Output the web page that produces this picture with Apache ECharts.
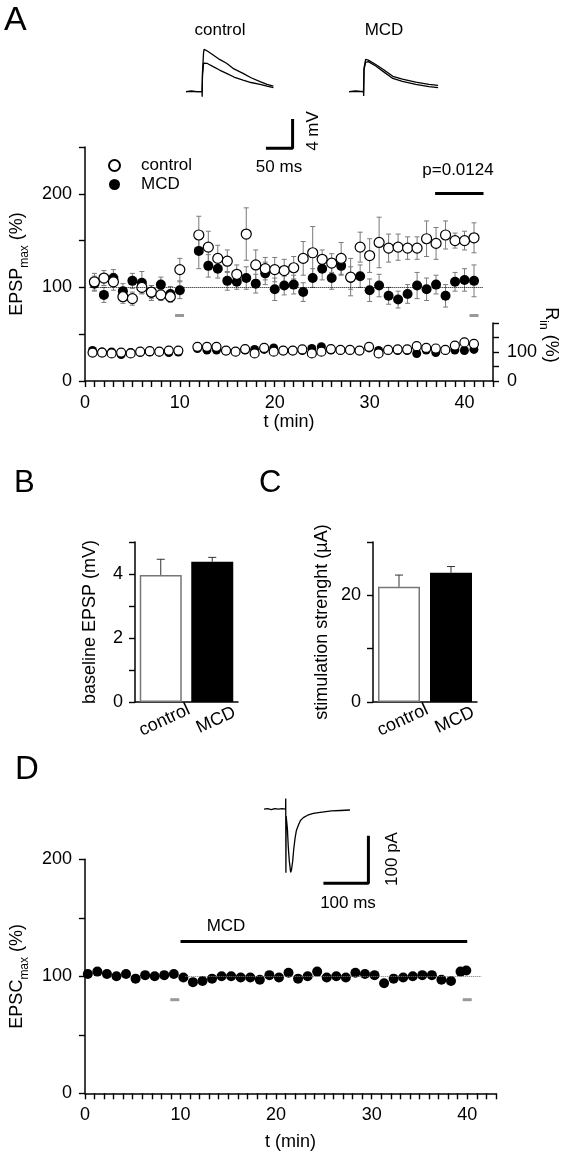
<!DOCTYPE html>
<html>
<head>
<meta charset="utf-8">
<script src="https://cdn.jsdelivr.net/npm/echarts@6/dist/echarts.min.js"></script>
<style>
  html, body { margin: 0; padding: 0; background: #fff; }
  #fig { width: 567px; height: 1163px; }
</style>
</head>
<body>
<div id="fig"></div>
<script>
// ---- panel A: EPSP max (%) over time ----
var aTimes = [1, 2, 3, 4, 5, 6, 7, 8, 9, 10,
  12, 13, 14, 15, 16, 17, 18, 19, 20, 21, 22, 23, 24, 25, 26, 27, 28, 29, 30, 31,
  32, 33, 34, 35, 36, 37, 38, 39, 40, 41]
var aControl = [106, 110, 106, 90, 88, 100, 95, 92, 90, 119,
  156, 143, 131, 128, 114, 157, 124, 120, 119, 118, 121, 131, 137, 130, 126, 131, 111, 143, 134, 148,
  142, 143, 142, 142, 152, 147, 156, 150, 150, 153]
var aControlErr = [9, 8, 9, 7, 7, 6, 7, 6, 6, 12,
  20, 17, 14, 12, 10, 28, 16, 12, 13, 12, 12, 18, 28, 10, 10, 17, 20, 16, 18, 27,
  15, 14, 12, 12, 19, 17, 15, 8, 10, 16]
var aMcd = [104, 92, 110, 96, 107, 105, 94, 103, 93, 97,
  139, 123, 120, 107, 106, 110, 104, 115, 98, 102, 103, 95, 110, 120, 110, 123, 110, 112, 97, 102,
  91, 87, 93, 102, 98, 103, 91, 106, 108, 107]
var aMcdErr = [8, 8, 9, 8, 8, 12, 8, 8, 8, 9,
  19, 12, 10, 10, 8, 12, 10, 12, 12, 10, 10, 10, 10, 12, 12, 10, 12, 12, 12, 12,
  9, 9, 10, 14, 12, 10, 12, 10, 12, 17]
// input resistance (%)
var rinControl = [98, 98, 95, 98, 95, 101, 103, 101, 105, 105,
  118, 118, 118, 105, 101, 110, 95, 114, 101, 105, 105, 109, 95, 101, 110, 107, 107, 105, 118, 95,
  107, 109, 109, 120, 114, 112, 107, 122, 133, 128]
var rinMcd = [105, 100, 100, 91, 98, 98, 100, 100, 98, 100,
  112, 107, 107, 105, 101, 107, 109, 109, 114, 105, 105, 105, 112, 118, 107, 105, 105, 105, 114, 105,
  105, 105, 105, 95, 107, 98, 105, 107, 105, 109]
var aGrayMarks = [[9.97, 70], [41, 70]]
var pBar = [36.9, 42, 201]
var pLabel = 'p=0.0124'

// example EPSP traces [ms, mV]
var traceCtlUpper = [[0, 0], [10, 0.1], [20, 0], [30, 0], [30.4, -0.7], [30.8, 2.5], [33, 5.4], [34, 5.78],
  [40, 5.55], [51, 5.0], [63, 4.4], [76, 3.87], [90, 3.1], [107, 2.5], [122, 1.9], [139, 1.36], [152, 1.0], [164, 0.77]]
var traceCtlLower = [[0, 0], [30, 0], [31, 2.2], [33, 3.9], [34, 4.09], [40, 3.85], [51, 3.41], [63, 2.95],
  [76, 2.5], [90, 2.0], [107, 1.59], [122, 1.25], [139, 1.0], [152, 0.75], [164, 0.55]]
var traceMcdUpper = [[0, 0], [12, 0.1], [27, 0], [27.4, -0.6], [28, 3.2], [31, 4.4], [36, 4.3], [50, 3.7],
  [65, 3.0], [82, 2.1], [100, 1.7], [125, 1.3], [150, 1.0], [167, 0.85]]
var traceMcdLower = [[0, 0], [27, 0], [28, 3.0], [31, 4.0], [36, 4.1], [50, 3.5], [65, 2.7], [82, 1.8],
  [100, 1.4], [125, 1.0], [150, 0.7], [167, 0.55]]

// ---- panels B and C ----
var barCats = ['control', 'MCD']
var bBaseline = [3.97, 4.38]
var bBaselineErr = [0.49, 0.14]
var cStim = [21.6, 24.25]
var cStimErr = [2.2, 1.15]

// ---- panel D: EPSC max (%) ----
var dTimes = [0.3, 1.3, 2.3, 3.3, 4.3, 5.3, 6.3, 7.3, 8.3, 9.3,
  10.3, 11.3, 12.3, 13.3, 14.3, 15.3, 16.3, 17.3, 18.3, 19.3,
  20.3, 21.3, 22.3, 23.3, 24.3, 25.3, 26.3, 27.3, 28.3, 29.3,
  30.3, 31.3, 32.3, 33.3, 34.3, 35.3, 36.3, 37.3, 38.3, 39.3, 39.9]
var dEpsc = [102, 104, 102, 100, 102, 98, 101, 100, 101, 102,
  99, 95, 96, 98, 100, 100, 99, 99, 97, 101,
  99, 103, 98, 100, 104, 99, 100, 99, 103, 102,
  101, 94, 98, 99, 100, 101, 101, 97, 96, 104, 105]
var dGrayMarks = [[9.4, 80], [40, 80]]
var dMcdBar = [10, 40, 130]
// example EPSC trace [ms, pA]
var epscTrace = [[0, 0], [8, 1], [16, -1], [24, 1], [32, 0], [40, 1], [48, 0], [48.3, 22], [48.7, -134], [49.2, -15],
  [51.9, -40], [54, -80], [56.3, -110], [59.3, -133], [61, -128], [63.7, -110], [66, -85], [68.9, -62],
  [72, -45], [76.3, -34], [81, -24], [87.4, -18], [97, -13], [109.6, -9], [125, -7], [150, -4], [170, -3], [191, -2]]

var FONT = 'Liberation Sans, Arial, sans-serif'

function zipXY (xs, ys) {
  return xs.map(function (x, i) { return [x, ys[i]] })
}
function zipErr (xs, ys, es) {
  return xs.map(function (x, i) { return [x, ys[i], es[i]] })
}
function shift (pts, dx) {
  return pts.map(function (p) { return [p[0] + dx, p[1]] })
}

// vertical error bars with caps
function errBars (color, upOnly) {
  return function (params, api) {
    var x = api.value(0)
    var y = api.value(1)
    var e = api.value(2)
    var top = api.coord([x, y + e])
    var bot = api.coord([x, upOnly ? y : y - e])
    var cap = upOnly ? 4 : 2.5
    var st = { stroke: color, lineWidth: 1 }
    var kids = [
      { type: 'line', shape: { x1: top[0], y1: top[1], x2: bot[0], y2: bot[1] }, style: st },
      { type: 'line', shape: { x1: top[0] - cap, y1: top[1], x2: top[0] + cap, y2: top[1] }, style: st }
    ]
    if (!upOnly) {
      kids.push({ type: 'line', shape: { x1: bot[0] - cap, y1: bot[1], x2: bot[0] + cap, y2: bot[1] }, style: st })
    }
    return { type: 'group', children: kids }
  }
}

function valueAxis (o) {
  var ax = {
    type: 'value',
    min: o.min,
    max: o.max,
    interval: o.interval,
    gridIndex: o.grid,
    position: o.position,
    axisLine: { show: true, onZero: false, lineStyle: { color: '#000', width: 1.5 } },
    axisTick: { show: true, length: 6, lineStyle: { color: '#000', width: 1.4 } },
    splitLine: { show: false },
    axisLabel: {
      fontSize: 18, fontFamily: FONT, color: '#000', margin: o.margin || 12,
      formatter: function (v) { return o.labels.indexOf(v) >= 0 ? String(v) : '' }
    }
  }
  if (o.name) {
    ax.name = o.name
    ax.nameLocation = 'middle'
    ax.nameGap = o.nameGap
    ax.nameTextStyle = o.nameStyle
  }
  return ax
}
function hiddenAxis (grid, min, max) {
  return { type: 'value', gridIndex: grid, min: min, max: max, show: false, splitLine: { show: false } }
}

var subRich = {
  a: { fontSize: 18, fontFamily: FONT, color: '#000', lineHeight: 22, verticalAlign: 'bottom' },
  b: { fontSize: 12, fontFamily: FONT, color: '#000', lineHeight: 22, verticalAlign: 'bottom', padding: [0, 0, -5, 0] }
}
var plainName = { fontSize: 18, fontFamily: FONT, color: '#000' }
var filled = { color: '#000', opacity: 1 }
var hollow = { color: '#fff', borderColor: '#000', borderWidth: 1.2, opacity: 1 }

var chart = echarts.init(document.getElementById('fig'))
chart.setOption({
  animation: false,
  backgroundColor: '#fff',
  textStyle: { fontFamily: FONT },
  grid: [
    { left: 83, top: 147, width: 410, height: 234 },      // 0 A main
    { left: 83, top: 323, width: 410, height: 58 },       // 1 A Rin
    { left: 186, top: 36.7, width: 266.5, height: 124.6 }, // 2 A traces
    { left: 135, top: 542, width: 103, height: 160 },     // 3 B
    { left: 373, top: 542, width: 104, height: 160 },     // 4 C
    { left: 84.4, top: 859.3, width: 411.5, height: 234 }, // 5 D main
    { left: 264, top: 790, width: 112.5, height: 100 }    // 6 D trace
  ],
  legend: {
    data: ['control', 'MCD'],
    orient: 'vertical',
    left: 103,
    top: 152,
    icon: 'circle',
    itemWidth: 11,
    itemHeight: 11,
    itemGap: 2,
    selectedMode: false,
    textStyle: { fontSize: 17, fontFamily: FONT, color: '#000', padding: [0, 0, 0, 16] }
  },
  xAxis: [
    valueAxis({ grid: 0, min: 0, max: 43, interval: 1, labels: [0, 10, 20, 30, 40], margin: 13,
      name: 't (min)', nameGap: 28, nameStyle: plainName }),
    hiddenAxis(1, 0, 43),
    hiddenAxis(2, 0, 500),
    {
      type: 'category', gridIndex: 3, data: barCats,
      axisLine: { lineStyle: { color: '#000', width: 1.5 } },
      axisTick: { alignWithLabel: true, length: 7, lineStyle: { color: '#000', width: 1.2 } },
      axisLabel: { rotate: 25, fontSize: 18, fontFamily: FONT, color: '#000', margin: 10, align: 'center', verticalAlign: 'top', interval: 0 }
    },
    {
      type: 'category', gridIndex: 4, data: barCats,
      axisLine: { lineStyle: { color: '#000', width: 1.5 } },
      axisTick: { alignWithLabel: true, length: 7, lineStyle: { color: '#000', width: 1.2 } },
      axisLabel: { rotate: 25, fontSize: 18, fontFamily: FONT, color: '#000', margin: 10, align: 'center', verticalAlign: 'top', interval: 0 }
    },
    valueAxis({ grid: 5, min: 0, max: 43, interval: 1, labels: [0, 10, 20, 30, 40], margin: 13,
      name: 't (min)', nameGap: 40, nameStyle: plainName }),
    hiddenAxis(6, 0, 250)
  ],
  yAxis: [
    valueAxis({ grid: 0, min: 0, max: 250, interval: 50, labels: [0, 100, 200], margin: 13,
      name: '{a|EPSP}{b|max}{a| (%)}', nameGap: 50, nameStyle: { rich: subRich } }),
    valueAxis({ grid: 1, min: 0, max: 200, interval: 50, labels: [0, 100], position: 'right', margin: 14 }),
    hiddenAxis(2, -9.5, 7.5),
    valueAxis({ grid: 3, min: 0, max: 5, interval: 1, labels: [0, 2, 4], margin: 12,
      name: 'baseline EPSP (mV)', nameGap: 36, nameStyle: plainName }),
    valueAxis({ grid: 4, min: 0, max: 30, interval: 10, labels: [0, 20], margin: 12,
      name: 'stimulation strenght (µA)', nameGap: 42, nameStyle: plainName }),
    valueAxis({ grid: 5, min: 0, max: 200, interval: 50, labels: [0, 100, 200], margin: 13,
      name: '{a|EPSC}{b|max}{a| (%)}', nameGap: 50, nameStyle: { rich: subRich } }),
    hiddenAxis(6, -170, 40)
  ],
  series: [
    // ---- A main ----
    {
      type: 'custom', name: 'errCtl', xAxisIndex: 0, yAxisIndex: 0, z: 1,
      renderItem: errBars('#7a7a7a', false), encode: { x: 0, y: 1 },
      data: zipErr(aTimes, aControl, aControlErr)
    },
    {
      type: 'custom', name: 'errMcd', xAxisIndex: 0, yAxisIndex: 0, z: 1,
      renderItem: errBars('#7a7a7a', false), encode: { x: 0, y: 1 },
      data: zipErr(aTimes, aMcd, aMcdErr)
    },
    {
      type: 'scatter', name: 'MCD', xAxisIndex: 0, yAxisIndex: 0, z: 3,
      symbol: 'circle', symbolSize: 10,
      itemStyle: filled,
      data: zipXY(aTimes, aMcd),
      markLine: {
        silent: true, symbol: 'none', label: { show: false },
        lineStyle: { type: 'dotted', color: '#000', width: 1 },
        data: [[{ coord: [0.5, 100] }, { coord: [42, 100] }]]
      }
    },
    {
      type: 'scatter', name: 'control', xAxisIndex: 0, yAxisIndex: 0, z: 4,
      symbol: 'circle', symbolSize: 10,
      itemStyle: hollow,
      data: zipXY(aTimes, aControl),
      markLine: {
        silent: true, symbol: 'none', label: { show: false },
        lineStyle: { type: 'solid', color: '#000', width: 3 },
        data: [[{ coord: [pBar[0], pBar[2]] }, { coord: [pBar[1], pBar[2]] }]]
      }
    },
    {
      type: 'scatter', name: 'marksA', xAxisIndex: 0, yAxisIndex: 0, z: 2,
      symbol: 'rect', symbolSize: [9, 3], itemStyle: { color: '#999', opacity: 1 },
      data: aGrayMarks
    },
    // ---- A input resistance ----
    {
      type: 'scatter', name: 'MCD', xAxisIndex: 1, yAxisIndex: 1, z: 3,
      symbol: 'circle', symbolSize: 9, itemStyle: filled,
      data: zipXY(aTimes, rinMcd)
    },
    {
      type: 'scatter', name: 'control', xAxisIndex: 1, yAxisIndex: 1, z: 4,
      symbol: 'circle', symbolSize: 9, itemStyle: hollow,
      data: zipXY(aTimes, rinControl)
    },
    // ---- A traces and scale bar ----
    {
      type: 'line', name: 'tr1', xAxisIndex: 2, yAxisIndex: 2, showSymbol: false, silent: true,
      lineStyle: { color: '#000', width: 1.3 }, data: traceCtlUpper
    },
    {
      type: 'line', name: 'tr2', xAxisIndex: 2, yAxisIndex: 2, showSymbol: false, silent: true,
      lineStyle: { color: '#000', width: 1.3 }, data: traceCtlLower
    },
    {
      type: 'line', name: 'tr3', xAxisIndex: 2, yAxisIndex: 2, showSymbol: false, silent: true,
      lineStyle: { color: '#000', width: 1.3 }, data: shift(traceMcdUpper, 306)
    },
    {
      type: 'line', name: 'tr4', xAxisIndex: 2, yAxisIndex: 2, showSymbol: false, silent: true,
      lineStyle: { color: '#000', width: 1.3 }, data: shift(traceMcdLower, 306)
    },
    {
      type: 'line', name: 'scaleA', xAxisIndex: 2, yAxisIndex: 2, showSymbol: false, silent: true,
      lineStyle: { color: '#000', width: 3 },
      data: [[150, -7.72], [150 + 50, -7.72], [150 + 50, -7.72 + 4]]
    },
    // ---- B ----
    {
      type: 'bar', name: 'barB', xAxisIndex: 3, yAxisIndex: 3, barWidth: 42,
      data: [
        { value: bBaseline[0], itemStyle: { color: '#fff', borderColor: '#777', borderWidth: 1.5 } },
        { value: bBaseline[1], itemStyle: { color: '#000' } }
      ]
    },
    {
      type: 'custom', name: 'errB', xAxisIndex: 3, yAxisIndex: 3, z: 5,
      renderItem: errBars('#333', true), encode: { x: 0, y: 1 },
      data: [[0, bBaseline[0], bBaselineErr[0]], [1, bBaseline[1], bBaselineErr[1]]]
    },
    // ---- C ----
    {
      type: 'bar', name: 'barC', xAxisIndex: 4, yAxisIndex: 4, barWidth: 42,
      data: [
        { value: cStim[0], itemStyle: { color: '#fff', borderColor: '#777', borderWidth: 1.5 } },
        { value: cStim[1], itemStyle: { color: '#000' } }
      ]
    },
    {
      type: 'custom', name: 'errC', xAxisIndex: 4, yAxisIndex: 4, z: 5,
      renderItem: errBars('#333', true), encode: { x: 0, y: 1 },
      data: [[0, cStim[0], cStimErr[0]], [1, cStim[1], cStimErr[1]]]
    },
    // ---- D ----
    {
      type: 'scatter', name: 'epsc', xAxisIndex: 5, yAxisIndex: 5, z: 3,
      symbol: 'circle', symbolSize: 10, itemStyle: filled,
      data: zipXY(dTimes, dEpsc),
      markLine: {
        silent: true, symbol: 'none', label: { show: false },
        data: [
          [{ coord: [10.5, 100], lineStyle: { type: 'dotted', color: '#777', width: 1 } }, { coord: [41.5, 100] }],
          [{ coord: [dMcdBar[0], dMcdBar[2]], lineStyle: { type: 'solid', color: '#000', width: 3 } }, { coord: [dMcdBar[1], dMcdBar[2]] }]
        ]
      }
    },
    {
      type: 'scatter', name: 'marksD', xAxisIndex: 5, yAxisIndex: 5, z: 2,
      symbol: 'rect', symbolSize: [9, 3], itemStyle: { color: '#999', opacity: 1 },
      data: dGrayMarks
    },
    {
      type: 'line', name: 'trD', xAxisIndex: 6, yAxisIndex: 6, showSymbol: false, silent: true,
      lineStyle: { color: '#000', width: 1.3 }, data: epscTrace
    },
    {
      type: 'line', name: 'scaleD', xAxisIndex: 6, yAxisIndex: 6, showSymbol: false, silent: true,
      lineStyle: { color: '#000', width: 3 },
      data: [[132, -156], [132 + 100, -156], [132 + 100, -156 + 100]]
    }
  ],
  graphic: [
    { type: 'text', x: 4, y: 4, style: { text: 'A', fontSize: 34, fontFamily: FONT, fill: '#000' } },
    { type: 'text', x: 220, y: 30, style: { text: 'control', fontSize: 17, fontFamily: FONT, fill: '#000', align: 'center', verticalAlign: 'middle', textAlign: 'center', textVerticalAlign: 'middle' } },
    { type: 'text', x: 384, y: 30, style: { text: 'MCD', fontSize: 17, fontFamily: FONT, fill: '#000', align: 'center', verticalAlign: 'middle', textAlign: 'center', textVerticalAlign: 'middle' } },
    { type: 'text', x: 313, y: 131, rotation: Math.PI / 2, style: { text: '4 mV', fontSize: 17, fontFamily: FONT, fill: '#000', align: 'center', verticalAlign: 'middle', textAlign: 'center', textVerticalAlign: 'middle' } },
    { type: 'text', x: 279, y: 167, style: { text: '50 ms', fontSize: 17, fontFamily: FONT, fill: '#000', align: 'center', verticalAlign: 'middle', textAlign: 'center', textVerticalAlign: 'middle' } },
    { type: 'text', x: 458, y: 170, style: { text: pLabel, fontSize: 17, fontFamily: FONT, fill: '#000', align: 'center', verticalAlign: 'middle', textAlign: 'center', textVerticalAlign: 'middle' } },
    { type: 'text', x: 553, y: 335, rotation: -Math.PI / 2, style: { text: '{a|R}{b|in}{a| (%)}', rich: subRich, align: 'center', verticalAlign: 'middle', textAlign: 'center', textVerticalAlign: 'middle' } },
    { type: 'text', x: 14, y: 468, style: { text: 'B', fontSize: 31, fontFamily: FONT, fill: '#000' } },
    { type: 'text', x: 259, y: 468, style: { text: 'C', fontSize: 31, fontFamily: FONT, fill: '#000' } },
    { type: 'text', x: 15, y: 753, style: { text: 'D', fontSize: 33, fontFamily: FONT, fill: '#000' } },
    { type: 'text', x: 226, y: 926, style: { text: 'MCD', fontSize: 17, fontFamily: FONT, fill: '#000', align: 'center', verticalAlign: 'middle', textAlign: 'center', textVerticalAlign: 'middle' } },
    { type: 'text', x: 392, y: 859, rotation: Math.PI / 2, style: { text: '100 pA', fontSize: 17, fontFamily: FONT, fill: '#000', align: 'center', verticalAlign: 'middle', textAlign: 'center', textVerticalAlign: 'middle' } },
    { type: 'text', x: 348, y: 903, style: { text: '100 ms', fontSize: 17, fontFamily: FONT, fill: '#000', align: 'center', verticalAlign: 'middle', textAlign: 'center', textVerticalAlign: 'middle' } }
  ]
})
</script>
</body>
</html>
